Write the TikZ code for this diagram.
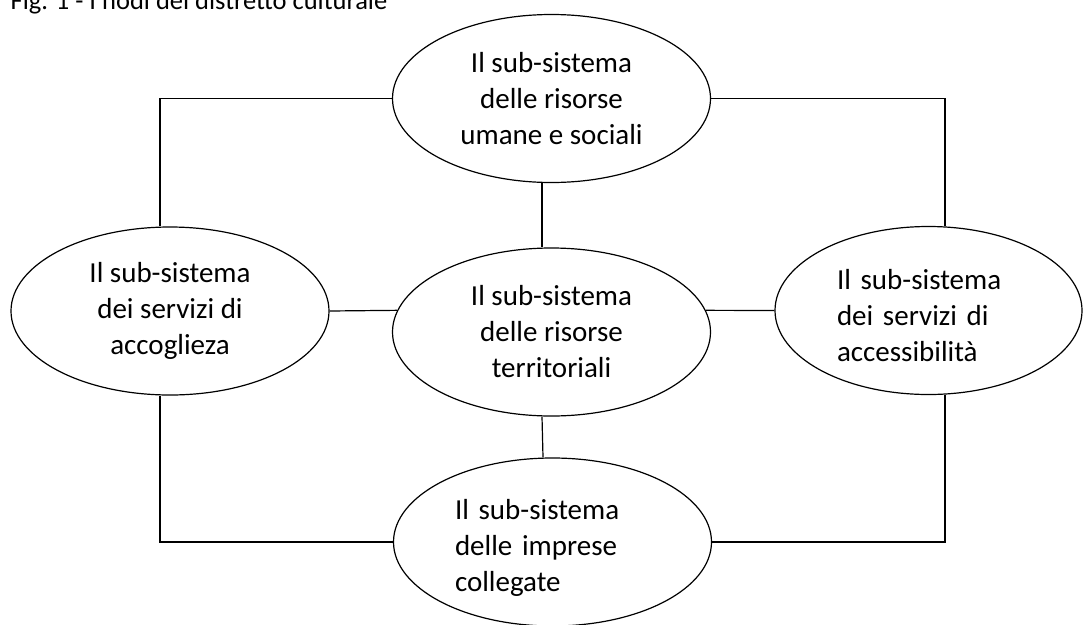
\documentclass[tikz,border=0pt]{standalone}
\usepackage{fontspec}
\setmainfont{Carlito}
\usetikzlibrary{shapes.geometric}

\begin{document}
\begin{tikzpicture}[x=1pt, y=-1pt, line width=1.2pt,
    subsys/.style={ellipse, draw, inner sep=0pt, minimum width=318pt, minimum height=168pt,
                   align=center, font=\fontsize{29}{36}\selectfont,
                   execute at begin node=\rule{0pt}{31pt}}]
    \useasboundingbox (0,0) rectangle (1083,624);

    % Title (cut by the top edge)
    \node[anchor=base west, inner sep=0pt, font=\fontsize{26.5}{32}\selectfont] (title) at (10,9) {Fig. 1 - I nodi del distretto culturale};

    % Sub-systems
    \node[subsys] (umane) at (551.5,98.5) {Il sub-sistema\\delle risorse\\umane e sociali};
    \node[subsys] (accoglienza) at (170,311) {Il sub-sistema\\dei servizi di\\accoglieza};
    \node[subsys] (territorio) at (551.5,332) {Il sub-sistema\\delle risorse\\territoriali};
    \node[subsys, minimum width=307pt, text width=183pt, align=left] (accessibilita) at (928.5,310.5) {Il sub-sistema\\dei servizi di\\accessibilità};
    \node[subsys, text width=195pt, align=left] (imprese) at (552.5,542) {Il sub-sistema\\delle imprese\\collegate};

    % Outer ring
    \draw (umane.west) -| ([xshift=-10pt]accoglienza.north);
    \draw (umane.east) -| ([xshift=16.5pt]accessibilita.north);
    \draw ([xshift=-10pt]accoglienza.south) |- (imprese.west);
    \draw ([xshift=16.5pt]accessibilita.south) |- (imprese.east);

    % Links to the centre
    \draw ([xshift=-9.5pt]umane.south) -- ([xshift=-9.5pt]territorio.north);
    \draw ([xshift=-9.5pt]territorio.south) -- ([xshift=-9.5pt]imprese.north);
    \draw (accoglienza.east) -- (territorio.172);
    \draw (accessibilita.west) -- (territorio.8);
\end{tikzpicture}
\end{document}
